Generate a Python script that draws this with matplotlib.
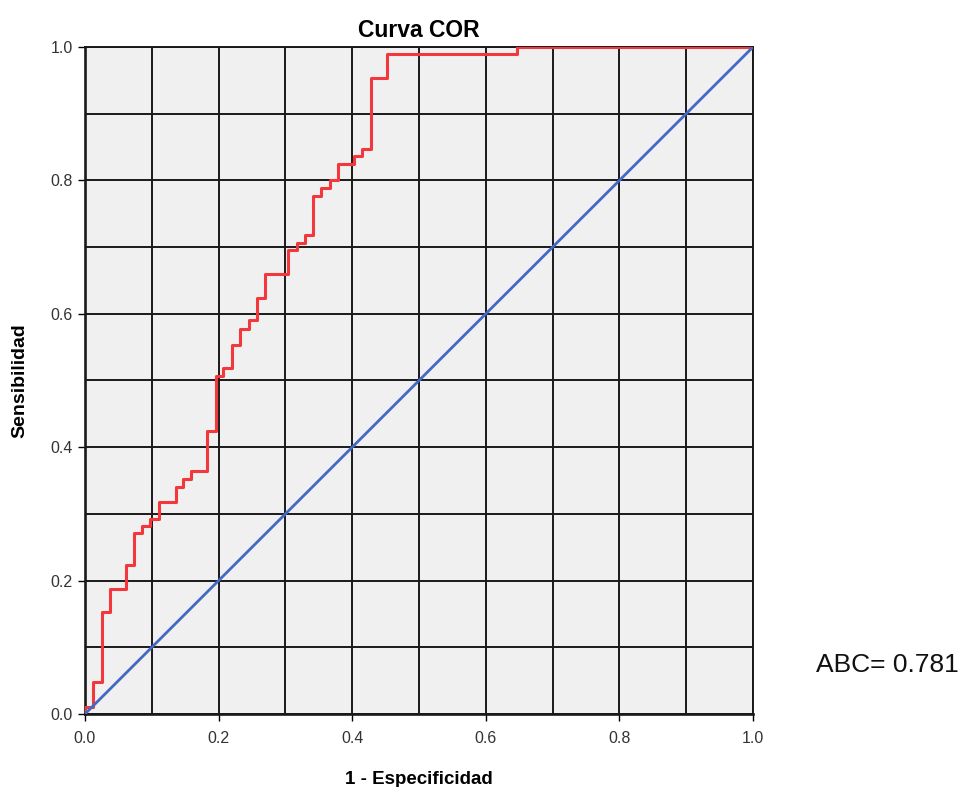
import numpy as np
import matplotlib
matplotlib.use('Agg')
import matplotlib.pyplot as plt
from matplotlib.ticker import MultipleLocator, FormatStrFormatter

plt.rcParams['font.family'] = ['Liberation Sans', 'DejaVu Sans']

# ROC step curve (left end of each horizontal run)
fpr = [0.0, 0.0, 0.0125, 0.025, 0.037, 0.062, 0.073, 0.086, 0.098, 0.111,
       0.136, 0.147, 0.159, 0.182, 0.196, 0.207, 0.220, 0.232, 0.245, 0.257,
       0.270, 0.304, 0.317, 0.330, 0.342, 0.354, 0.367, 0.379, 0.403, 0.415,
       0.428, 0.452, 0.647, 1.0]
tpr = [0.0, 0.011, 0.048, 0.153, 0.188, 0.223, 0.271, 0.282, 0.293, 0.318,
       0.341, 0.353, 0.365, 0.424, 0.506, 0.518, 0.553, 0.577, 0.590, 0.623,
       0.659, 0.695, 0.706, 0.718, 0.777, 0.789, 0.801, 0.824, 0.836, 0.847,
       0.953, 0.989, 1.0, 1.0]
ref_line = [0.0, 1.0]
auc_text = 'ABC= 0.781'

fig = plt.figure(figsize=(9.69, 7.87), dpi=100)
ax = fig.add_axes([85/969, 73/787, 668/969, 667/787])
ax.set_facecolor('#F0F0F0')

ax.step(fpr, tpr, where='post', color='#F2383C', lw=2.2, zorder=3)
ax.plot(ref_line, ref_line, color='#4468C4', lw=2.0, zorder=3)

ax.set_xlim(0, 1)
ax.set_ylim(0, 1)
ax.xaxis.set_major_locator(MultipleLocator(0.2))
ax.yaxis.set_major_locator(MultipleLocator(0.2))
ax.xaxis.set_minor_locator(MultipleLocator(0.1))
ax.yaxis.set_minor_locator(MultipleLocator(0.1))
ax.xaxis.set_major_formatter(FormatStrFormatter('%.1f'))
ax.yaxis.set_major_formatter(FormatStrFormatter('%.1f'))
ax.grid(which='both', color='#1A1A1A', lw=1.4, zorder=1)
ax.set_axisbelow(True)
ax.tick_params(which='major', direction='out', length=5, width=1,
               labelsize=11.5, labelcolor='#333333', pad=4)
ax.tick_params(axis='x', which='major', pad=7)
ax.tick_params(which='minor', length=0)
for s in ax.spines.values():
    s.set_color('#1A1A1A')
    s.set_linewidth(1.4)
ax.spines['left'].set_linewidth(1.9)
ax.spines['bottom'].set_linewidth(1.9)

ax.set_title('Curva COR', fontsize=16.5, fontweight='bold', pad=7)
ax.set_xlabel('1 - Especificidad', fontsize=13.5, fontweight='bold', labelpad=18)
ax.set_ylabel('Sensibilidad', fontsize=14, fontweight='bold', labelpad=16)

fig.text(887/969, 1 - 665/787, auc_text, fontsize=19, ha='center', va='center',
         color='#111111')

fig.savefig('out.png', dpi=100)
